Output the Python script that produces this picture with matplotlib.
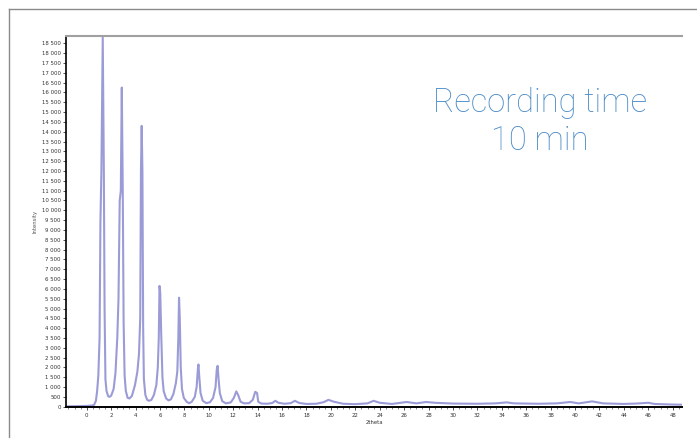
import matplotlib
matplotlib.use("Agg")
import matplotlib.pyplot as plt
from matplotlib.lines import Line2D
from matplotlib.ticker import MultipleLocator, FuncFormatter

# --- data (2theta, intensity) ---
two_theta = [
    -1.7, -1.0, 0.0, 0.4, 0.6, 0.75, 0.85, 0.95, 1.05, 1.12, 1.2, 1.31, 1.4, 1.46, 1.53, 1.62, 1.75, 1.85,
    2.0, 2.2, 2.35, 2.5, 2.6, 2.7, 2.79, 2.87, 2.95, 3.02, 3.1, 3.2, 3.35, 3.5, 3.7, 3.95,
    4.15, 4.28, 4.38, 4.44, 4.5, 4.56, 4.62, 4.68, 4.8, 4.95, 5.1, 5.3, 5.5, 5.7, 5.82, 5.9,
    5.96, 6.02, 6.1, 6.2, 6.3, 6.5, 6.7, 6.9, 7.1, 7.3, 7.42, 7.5, 7.56, 7.62, 7.7, 7.8,
    7.95, 8.2, 8.4, 8.6, 8.85, 9.0, 9.1, 9.15, 9.22, 9.32, 9.5, 9.8, 10.1, 10.35, 10.55, 10.65,
    10.72, 10.8, 10.9, 11.1, 11.4, 11.8, 12.05, 12.25, 12.4, 12.6, 12.9, 13.3, 13.6, 13.8, 13.95, 14.05,
    14.3, 14.8, 15.2, 15.45, 15.7, 16.2, 16.7, 17.05, 17.4, 18.0, 18.8, 19.4, 19.8, 20.2, 21.0, 22.0,
    23.0, 23.5, 24.0, 25.0, 26.2, 27.0, 27.8, 28.5, 30.0, 32.0, 33.5, 34.4, 35.0, 37.0, 38.5, 39.6,
    40.3, 41.4, 42.3, 44.0, 45.0, 46.0, 46.5, 48.0, 48.8,
]
intensity = [
    20, 25, 40, 60, 90, 300, 800, 1600, 3500, 9400, 12000, 18800, 12000, 5000, 1400, 800, 540, 500,
    560, 900, 1700, 3500, 5500, 10500, 11000, 16250, 11000, 4300, 1600, 800, 450, 420, 550, 1100,
    1800, 2700, 4500, 12000, 14300, 12000, 4000, 1400, 600, 350, 300, 350, 600, 1100, 2000, 3500,
    6150, 5800, 3700, 1500, 800, 420, 320, 380, 650, 1200, 1800, 3500, 5550, 4500, 2000, 900,
    450, 240, 180, 250, 500, 1000, 1900, 2150, 1500, 700, 300, 180, 230, 450, 1000, 1900,
    2080, 1400, 700, 280, 170, 220, 450, 780, 600, 250, 170, 180, 350, 760, 700, 250,
    160, 150, 190, 300, 200, 150, 180, 300, 190, 140, 150, 230, 350, 260, 150, 130,
    170, 300, 200, 140, 240, 170, 240, 200, 160, 150, 170, 220, 170, 150, 170, 240,
    170, 270, 170, 140, 160, 200, 140, 110, 100,
]

x_ticks = list(range(0, 49, 2))
y_ticks = list(range(0, 18501, 500))

W, H = 697, 438
fig = plt.figure(figsize=(W / 100, H / 100), dpi=100)
fig.patch.set_facecolor("white")

# outer frame lines
fig.add_artist(Line2D([9 / W, 1.0], [1 - 9 / H, 1 - 9 / H], transform=fig.transFigure, color="#8a8a8a", lw=1.0))
fig.add_artist(Line2D([9 / W, 9 / W], [1 - 9 / H, 0.0], transform=fig.transFigure, color="#8a8a8a", lw=1.0))

ax = fig.add_axes([66 / W, 1 - 407 / H, (682 - 66) / W, (407 - 36.5) / H])
ax.plot(two_theta, intensity, color="#8a8ad0", lw=1.5, alpha=0.85, solid_joinstyle="round")

ax.set_xlim(-1.7, 48.76)
ax.set_ylim(-15, 18850)

ax.spines["right"].set_visible(False)
ax.spines["top"].set_color("#a0a0a0")
ax.spines["top"].set_linewidth(1.5)
ax.spines["left"].set_color("black")
ax.spines["bottom"].set_color("black")
ax.spines["left"].set_linewidth(1.2)
ax.spines["bottom"].set_linewidth(1.4)

ax.set_xticks(x_ticks)
ax.set_yticks(y_ticks)
ax.xaxis.set_minor_locator(MultipleLocator(0.5))
ax.yaxis.set_major_formatter(FuncFormatter(lambda v, p: f"{int(v):,}".replace(",", " ")))
ax.tick_params(axis="both", which="major", labelsize=3.9, length=2.5, width=0.6, colors="#333333", pad=1.5)
ax.tick_params(axis="x", which="minor", length=1.3, width=0.5, colors="#555555")
ax.tick_params(axis="y", which="major", pad=1.2)

ax.set_xlabel("2theta", fontsize=3.8, color="#333333", labelpad=1.5)
ax.set_ylabel("Intensity", fontsize=3.8, color="#555555", labelpad=3)

fig.text(540 / W, 1 - 103 / H, "Recording time", ha="center", va="center",
         fontsize=23.5, color="#4a8ac6", family="Roboto", fontweight="light")
fig.text(540 / W, 1 - 141 / H, "10 min", ha="center", va="center",
         fontsize=23.5, color="#4a8ac6", family="Roboto", fontweight="light")

fig.savefig("out.png", dpi=100, facecolor="white")
